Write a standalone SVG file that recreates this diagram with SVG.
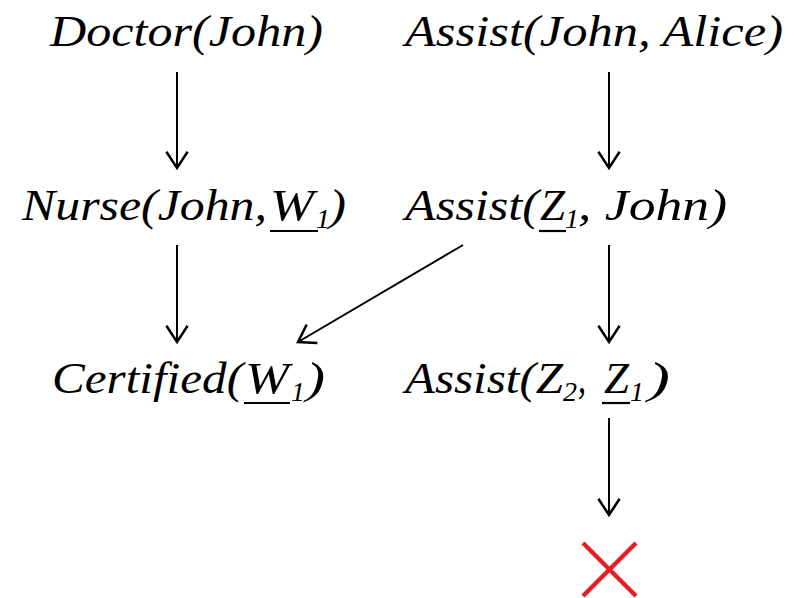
<svg xmlns="http://www.w3.org/2000/svg" width="794" height="598" viewBox="0 0 794 598">
  <style>
    .t { font-family: "Liberation Serif", "Times New Roman", serif; font-style: italic; font-size: 44px; fill: #000; }
    .s { font-family: "Liberation Serif", "Times New Roman", serif; font-style: italic; font-size: 28px; fill: #000; }
    .u { stroke: #000; stroke-width: 2.2; }
    .e { stroke: #000; stroke-width: 2; fill: none; }
    .x { stroke: #ec1c24; stroke-width: 4.5; stroke-linecap: butt; }
  </style>
  <defs>
    <marker id="head" markerUnits="userSpaceOnUse" markerWidth="30" markerHeight="30" refX="0" refY="0" viewBox="-16 -12 20 24" orient="auto">
      <path d="M-13,-8.5 L0,0 L-13,8.5" fill="none" stroke="#000" stroke-width="2" stroke-linejoin="miter"/>
    </marker>
  </defs>

  <g id="edges">
    <line class="e" x1="177" y1="72" x2="177" y2="168" marker-end="url(#head)"/>
    <line class="e" x1="609" y1="72" x2="609" y2="168" marker-end="url(#head)"/>
    <line class="e" x1="177" y1="245" x2="177" y2="342" marker-end="url(#head)"/>
    <line class="e" x1="609" y1="245" x2="609" y2="342" marker-end="url(#head)"/>
    <line class="e" x1="463" y1="245" x2="298" y2="342" marker-end="url(#head)"/>
    <line class="e" x1="609" y1="418" x2="609" y2="515" marker-end="url(#head)"/>
  </g>

  <g id="doctor-john">
    <text class="t" x="50" y="46" textLength="273" lengthAdjust="spacingAndGlyphs">Doctor(John)</text>
  </g>

  <g id="assist-john-alice">
    <text class="t" x="405" y="46" textLength="378" lengthAdjust="spacingAndGlyphs">Assist(John, Alice)</text>
  </g>

  <g id="nurse-john-w1">
    <text class="t" x="22" y="220" textLength="245" lengthAdjust="spacingAndGlyphs">Nurse(John,</text>
    <text class="t" x="270" y="220" textLength="44" lengthAdjust="spacingAndGlyphs">W</text>
    <line class="u" x1="270" y1="231" x2="318" y2="231"/>
    <text class="s" x="316" y="228">1</text>
    <text class="t" x="329" y="220" textLength="17" lengthAdjust="spacingAndGlyphs">)</text>
  </g>

  <g id="assist-z1-john">
    <text class="t" x="405" y="220" textLength="134" lengthAdjust="spacingAndGlyphs">Assist(</text>
    <text class="t" x="540" y="220" textLength="25" lengthAdjust="spacingAndGlyphs">Z</text>
    <line class="u" x1="539" y1="231" x2="566" y2="231"/>
    <text class="s" x="565" y="228">1</text>
    <text class="t" x="578" y="220" textLength="149" lengthAdjust="spacingAndGlyphs">, John)</text>
  </g>

  <g id="certified-w1">
    <text class="t" x="52" y="393" textLength="191" lengthAdjust="spacingAndGlyphs">Certified(</text>
    <text class="t" x="245" y="393" textLength="44" lengthAdjust="spacingAndGlyphs">W</text>
    <line class="u" x1="244" y1="403" x2="290" y2="403"/>
    <text class="s" x="291" y="401">1</text>
    <text class="t" x="306" y="393" textLength="19" lengthAdjust="spacingAndGlyphs">)</text>
  </g>

  <g id="assist-z2-z1">
    <text class="t" x="405" y="393" textLength="158" lengthAdjust="spacingAndGlyphs">Assist(Z</text>
    <text class="s" x="563" y="401">2</text>
    <text class="t" x="578" y="393" textLength="8" lengthAdjust="spacingAndGlyphs">,</text>
    <text class="t" x="604" y="393" textLength="25" lengthAdjust="spacingAndGlyphs">Z</text>
    <line class="u" x1="602" y1="403" x2="630" y2="403"/>
    <text class="s" x="630" y="401">1</text>
    <text class="t" x="648" y="393" textLength="22" lengthAdjust="spacingAndGlyphs">)</text>
  </g>

  <g id="fail">
    <line class="x" x1="583" y1="543" x2="636" y2="596"/>
    <line class="x" x1="636" y1="543" x2="583" y2="596"/>
  </g>
</svg>
